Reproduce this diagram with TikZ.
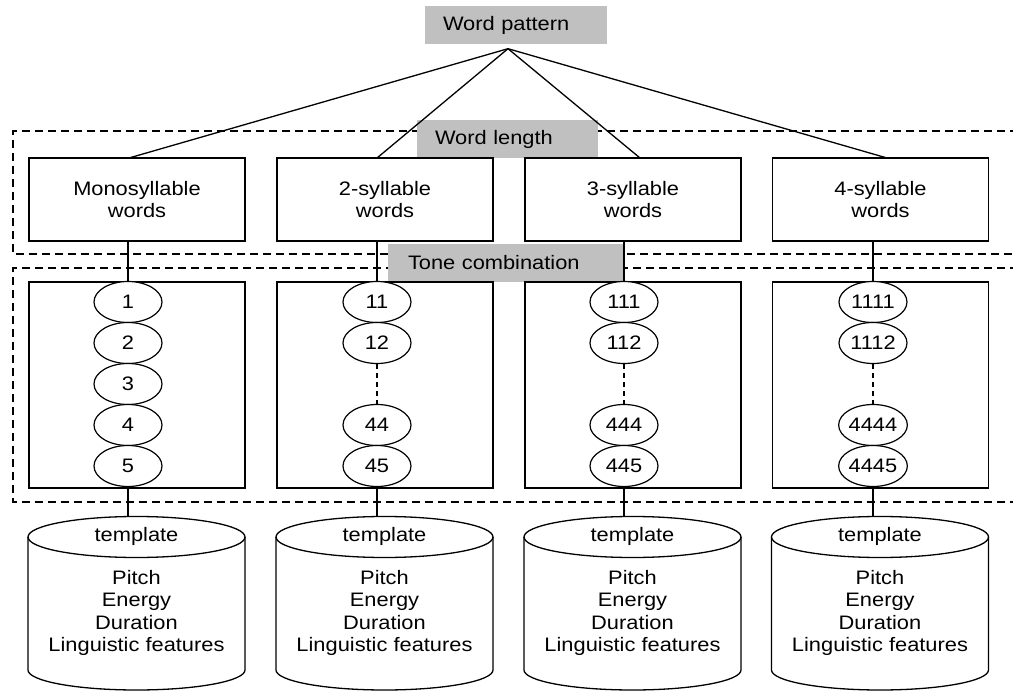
\documentclass[tikz,border=0pt]{standalone}
\usepackage{fontspec}
\setmainfont{Liberation Sans}[FakeStretch=1.12]
\usetikzlibrary{shapes.geometric}
\definecolor{tagGray}{HTML}{C0C0C0}
\newcommand{\lbl}{\fontsize{19.5}{22.5}\selectfont}
\tikzset{
  link/.style={line width=1.3pt, draw=black},
  region/.style={line width=1.2pt, dash pattern=on 8pt off 5pt},
  gap/.style={line width=1.2pt, dash pattern=on 5pt off 4pt},
  tag/.style={fill=tagGray, inner xsep=18pt, inner ysep=0pt, minimum height=38pt,
              align=left, font=\lbl},
  wordbox/.style={draw, line width=1.3pt, fill=white, minimum width=216pt,
                  minimum height=83pt, inner sep=0pt, align=center, font=\lbl},
  tonebox/.style={draw, line width=1.3pt, minimum width=216pt, minimum height=206pt, inner sep=0pt},
  tone/.style={ellipse, draw, line width=1.2pt, fill=white, minimum width=68pt,
               minimum height=41pt, inner sep=0pt, font=\lbl},
  txt/.style={align=center, inner sep=0pt, font=\lbl}
}
\begin{document}
\begin{tikzpicture}[x=1pt,y=-1pt]
\useasboundingbox (0,0) rectangle (1013,692);

% dashed regions: word length and tone combination levels
\draw[region] (1018,131) -| (13,254) -- (1018,254);
\draw[region] (1018,268) -| (13,502) -- (1018,502);

% level labels
\node[tag, text width=146pt] (pattern) at (516,25.5) {Word pattern};
\node[tag, text width=145pt] (length) at (507.5,139) {Word length};
\node[tag, text width=195pt, inner xsep=20pt] (combo) at (505.5,263) {Tone combination};
\path (pattern.south) ++(-8,4) coordinate (apex);

% ---- column 1: monosyllable words ----
\node[wordbox] (w1) at (137,199.5) {Monosyllable\\words};
\node[tonebox] (t1) at (137,385) {};
\node[tone] (e1a) at (128,302) {1};
\node[tone] (e1b) at (128,343) {2};
\node[tone] (e1c) at (128,384) {3};
\node[tone] (e1d) at (128,425) {4};
\node[tone] (e1e) at (128,466) {5};
\coordinate (top1) at (129,158);
\draw[link] (w1.south -| e1a) -- (e1a.north);
\coordinate (c1) at (128,517);
\draw[link] (e1e.south) -- (c1);

% ---- columns 2 to 4 ----
\foreach \i/\cx/\ex/\tx/\wa/\ta/\tb/\tc/\td in {
  2/385/377/377/2-syllable/11/12/44/45,
  3/633/624/640/3-syllable/111/112/444/445,
  4/880.5/873/887/4-syllable/1111/1112/4444/4445}{
  \node[wordbox] (w\i) at (\cx,199.5) {\wa\\words};
  \node[tonebox] (t\i) at (\cx,385) {};
  \node[tone] (e\i a) at (\ex,302) {\ta};
  \node[tone] (e\i b) at (\ex,343) {\tb};
  \node[tone] (e\i c) at (\ex,425) {\tc};
  \node[tone] (e\i d) at (\ex,466) {\td};
  \draw[gap] (e\i b.south) -- (e\i c.north);
  \coordinate (top\i) at (\tx,158);
  \draw[link] (w\i.south -| e\i a) -- (e\i a.north);
  \coordinate (c\i) at (\ex,517);
  \draw[link] (e\i d.south) -- (c\i);
}

% links from the word pattern to each word length
\foreach \i in {1,...,4}{
  \draw[link] (apex) -- (top\i);
}

% template stores
\foreach \i/\cx in {1/136.5,2/384.5,3/632.5,4/880}{
  \draw[link, fill=white] ({\cx-108.5},537) -- ({\cx-108.5},670)
    arc[start angle=180, end angle=0, x radius=108.5, y radius=20]
    -- ({\cx+108.5},537);
  \draw[link] (\cx,537) ellipse[x radius=108.5, y radius=20.5];
  \node[txt] (tpl\i) at (\cx,536) {template};
  \node[txt] (feat\i) at (\cx,613) {Pitch\\Energy\\Duration\\Linguistic features};
}
\end{tikzpicture}
\end{document}
